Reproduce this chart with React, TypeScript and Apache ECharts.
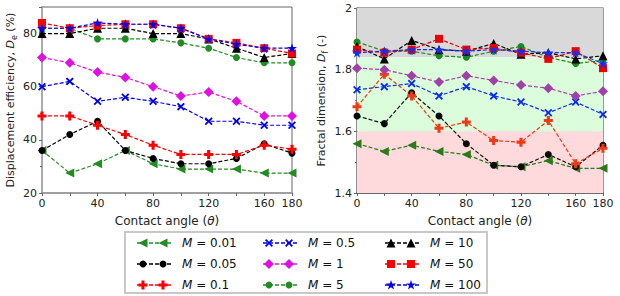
import React, { useEffect, useRef } from 'react';
import * as echarts from 'echarts';

const angles = [0, 20, 40, 60, 80, 100, 120, 140, 160, 180];
const xTickLabels = [0, 40, 80, 120, 160, 180];
const mValues = ['0.01', '0.05', '0.1', '0.5', '1', '5', '10', '50', '100'];

// Displacement efficiency (%)
const effM001 = [36, 27.5, 31, 36, 31, 29, 29, 29, 27.5, 27.5];
const effM005 = [36, 42, 47, 36, 33, 31, 31, 33, 38.5, 35];
const effM01 = [49, 49, 45.5, 42, 38, 34.5, 34.5, 34.5, 38, 36.5];
const effM05 = [60, 62, 54.5, 56, 54.5, 52.5, 47, 47, 45.5, 45.5];
const effM1 = [71, 69, 65.5, 63.5, 60, 56.5, 58, 54.5, 49, 49];
const effM5 = [82, 82, 78, 78, 78, 76.5, 74.5, 71, 69, 69];
const effM10 = [80, 80, 82, 82, 80, 80, 78, 74.5, 71, 72.5];
const effM50 = [84, 82, 83, 83.5, 83.5, 82, 78, 76.5, 74.5, 72.5];
const effM100 = [82, 82, 84, 83.5, 83.5, 82, 78, 76, 74.5, 74.5];

// Fractal dimension
const fracM001 = [1.56, 1.535, 1.555, 1.535, 1.525, 1.49, 1.485, 1.505, 1.48, 1.48];
const fracM005 = [1.65, 1.625, 1.725, 1.65, 1.56, 1.49, 1.485, 1.525, 1.485, 1.555];
const fracM01 = [1.68, 1.785, 1.715, 1.61, 1.63, 1.57, 1.565, 1.635, 1.495, 1.545];
const fracM05 = [1.735, 1.745, 1.755, 1.715, 1.745, 1.715, 1.695, 1.66, 1.695, 1.655];
const fracM1 = [1.805, 1.8, 1.78, 1.76, 1.78, 1.765, 1.75, 1.74, 1.715, 1.73];
const fracM5 = [1.89, 1.86, 1.86, 1.845, 1.84, 1.86, 1.875, 1.84, 1.82, 1.83];
const fracM10 = [1.875, 1.835, 1.895, 1.865, 1.86, 1.885, 1.85, 1.855, 1.835, 1.845];
const fracM50 = [1.865, 1.855, 1.865, 1.9, 1.865, 1.87, 1.855, 1.835, 1.86, 1.805];
const fracM100 = [1.855, 1.86, 1.865, 1.865, 1.86, 1.865, 1.86, 1.855, 1.855, 1.82];

// Background bands of the fractal-dimension plot
const bandEdges = [1.4, 1.6, 1.84, 2.0];

const FONT = 'DejaVu Sans';

const SHAPES: Record<string, number[][]> = {
  plus: [[3.3, 0], [6.7, 0], [6.7, 3.3], [10, 3.3], [10, 6.7], [6.7, 6.7], [6.7, 10], [3.3, 10], [3.3, 6.7], [0, 6.7], [0, 3.3], [3.3, 3.3]],
  cross: [[1.6, 0], [5, 3.4], [8.4, 0], [10, 1.6], [6.6, 5], [10, 8.4], [8.4, 10], [5, 6.6], [1.6, 10], [0, 8.4], [3.4, 5], [0, 1.6]],
  star: [[5, 0], [6.18, 3.62], [10, 3.62], [6.91, 5.86], [8.09, 9.5], [5, 7.26], [1.91, 9.5], [3.09, 5.86], [0, 3.62], [3.82, 3.62]],
  triUp: [[5, 0], [10, 10], [0, 10]],
  triLeft: [[0, 5], [10, 0], [10, 10]],
  diamond: [[5, 0], [10, 5], [5, 10], [0, 5]],
  square: [[0, 0], [10, 0], [10, 10], [0, 10]],
};

const pathSym = (k: string) => 'path://M' + SHAPES[k].map((p) => p.join(',')).join('L') + 'Z';

type Sty = { shape: string; size: number; color: string; color2: string };
const styles: Sty[] = [
  { shape: 'triLeft', size: 9, color: '#228B22', color2: '#2a7a1a' },
  { shape: 'circle', size: 7, color: '#000000', color2: '#0a0a0a' },
  { shape: 'plus', size: 9, color: '#ff0000', color2: '#ee3a16' },
  { shape: 'cross', size: 8, color: '#0000ee', color2: '#0a2aee' },
  { shape: 'diamond', size: 10, color: '#e010e0', color2: '#a040a8' },
  { shape: 'circle', size: 7, color: '#228B22', color2: '#1a8a1a' },
  { shape: 'triUp', size: 9, color: '#000000', color2: '#000000' },
  { shape: 'square', size: 8, color: '#ff0000', color2: '#ee0000' },
  { shape: 'star', size: 10, color: '#0000ee', color2: '#1030ee' },
];

const effData = [effM001, effM005, effM01, effM05, effM1, effM5, effM10, effM50, effM100];
const fracData = [fracM001, fracM005, fracM01, fracM05, fracM1, fracM5, fracM10, fracM50, fracM100];

function mkSeries(idx: number, values: number[], axis: number) {
  const s = styles[idx];
  const color = axis === 0 ? s.color : s.color2;
  return {
    name: 'M = ' + mValues[idx],
    type: 'line',
    xAxisIndex: axis,
    yAxisIndex: axis,
    data: angles.map((a, i) => [a, values[i]]),
    symbol: s.shape === 'circle' ? 'circle' : pathSym(s.shape),
    symbolSize: s.size,
    lineStyle: { color, width: 1.2, type: [4, 2] },
    itemStyle: { color },
    z: 3,
    clip: false,
  };
}

function legendMarker(shape: string, cx: number, cy: number, size: number, color: string) {
  if (shape === 'circle') {
    return { type: 'circle', shape: { cx, cy, r: size / 2 }, style: { fill: color } };
  }
  const s = size / 10;
  return {
    type: 'polygon',
    shape: { points: SHAPES[shape].map(([px, py]) => [cx + (px - 5) * s, cy + (py - 5) * s]) },
    style: { fill: color },
  };
}

const axisText = { color: '#222', fontSize: 11, fontFamily: FONT };
const mkRich = (fs: number) => ({
  i: { fontStyle: 'italic', fontSize: fs, fontFamily: FONT, color: '#222', lineHeight: 15 },
  sub: { fontSize: 8, fontFamily: FONT, color: '#222', verticalAlign: 'bottom', lineHeight: 9 },
});

function xAxisCfg(grid: number, lineColor: string) {
  return {
    type: 'value',
    gridIndex: grid,
    min: 0,
    max: 180,
    interval: 20,
    axisLabel: {
      ...axisText,
      margin: 5,
      formatter: (v: number) => (xTickLabels.includes(v) ? String(v) : ''),
    },
    axisTick: { show: true, length: 3, lineStyle: { color: '#666' } },
    axisLine: { show: true, lineStyle: { color: lineColor, width: 1.5 } },
    splitLine: { show: false },
    name: 'Contact angle ({i|θ})',
    nameLocation: 'middle',
    nameGap: 18,
    nameTextStyle: { fontSize: 12, fontFamily: FONT, color: '#222', lineHeight: 15, rich: mkRich(12) },
  };
}

export default function App() {
  const ref = useRef<HTMLDivElement>(null);
  useEffect(() => {
    if (!ref.current) return;
    const chart = echarts.init(ref.current, undefined, { renderer: 'svg' });

    const series: any[] = [];
    series.push({
      name: 'bands',
      type: 'line',
      xAxisIndex: 1,
      yAxisIndex: 1,
      data: [],
      z: 1,
      markArea: {
        silent: true,
        data: [
          [{ yAxis: bandEdges[2], itemStyle: { color: '#d9d9d9' } }, { yAxis: bandEdges[3] }],
          [{ yAxis: bandEdges[1], itemStyle: { color: '#dbfddb' } }, { yAxis: bandEdges[2] }],
          [{ yAxis: bandEdges[0], itemStyle: { color: '#ffdadc' } }, { yAxis: bandEdges[1] }],
        ],
      },
    });
    effData.forEach((d, i) => series.push(mkSeries(i, d, 0)));
    fracData.forEach((d, i) => series.push(mkSeries(i, d, 1)));

    // legend drawn as graphic
    const cols = [
      { iconX: 137, textX: 182 },
      { iconX: 263, textX: 308 },
      { iconX: 385, textX: 430 },
    ];
    const rows = [243, 264, 285];
    const legendEls: any[] = [
      {
        type: 'rect',
        shape: { x: 125, y: 232, width: 362, height: 61 },
        style: { fill: '#fff', stroke: '#c8c8c8', lineWidth: 2 },
        z: 10,
      },
    ];
    mValues.forEach((m, i) => {
      const c = cols[Math.floor(i / 3)];
      const y = rows[i % 3];
      const st = styles[i];
      legendEls.push({
        type: 'line',
        shape: { x1: c.iconX, y1: y, x2: c.iconX + 35, y2: y },
        style: { stroke: st.color, lineWidth: 1.5, lineDash: [4, 2] },
        z: 11,
      });
      legendEls.push({ ...legendMarker(st.shape, c.iconX + 6, y, st.size, st.color), z: 12 });
      legendEls.push({ ...legendMarker(st.shape, c.iconX + 26, y, st.size, st.color), z: 12 });
      legendEls.push({
        type: 'text',
        x: c.textX,
        y,
        z: 12,
        style: {
          text: '{i|M} = ' + m,
          fill: '#111',
          fontSize: 12,
          fontFamily: FONT,
          verticalAlign: 'middle',
          rich: { i: { fontStyle: 'italic', fontSize: 12, fontFamily: FONT, fill: '#111' } },
        },
      });
    });

    chart.setOption({
      animation: false,
      backgroundColor: '#ffffff',
      textStyle: { fontFamily: FONT },
      grid: [
        { left: 42, top: 7, width: 250, height: 186, show: true, borderColor: '#666', borderWidth: 1 },
        { left: 357, top: 8, width: 246, height: 185, show: true, borderColor: '#555', borderWidth: 1.2 },
      ],
      xAxis: [xAxisCfg(0, '#999'), xAxisCfg(1, '#555')],
      yAxis: [
        {
          type: 'value',
          gridIndex: 0,
          min: 20,
          max: 90,
          interval: 20,
          axisLabel: { ...axisText, margin: 5, showMaxLabel: false, formatter: (v: number) => (v === 90 ? '' : String(v)) },
          axisTick: { show: true, length: 3, lineStyle: { color: '#666' } },
          minorTick: { show: true, splitNumber: 2, length: 2, lineStyle: { color: '#666' } },
          axisLine: { show: true, lineStyle: { color: '#aaa', width: 2 } },
          splitLine: { show: false },
          name: 'Displacement efficiency, {i|D}{sub|e} (%)',
          nameLocation: 'middle',
          nameGap: 24,
          nameTextStyle: { fontSize: 11, fontFamily: FONT, color: '#222', lineHeight: 15, rich: mkRich(11) },
        },
        {
          type: 'value',
          gridIndex: 1,
          min: 1.4,
          max: 2,
          interval: 0.2,
          axisLabel: { ...axisText, margin: 5 },
          axisTick: { show: true, length: 3, lineStyle: { color: '#666' } },
          minorTick: { show: true, splitNumber: 2, length: 2, lineStyle: { color: '#666' } },
          axisLine: { show: true, lineStyle: { color: '#555', width: 1.2 } },
          splitLine: { show: false },
          name: 'Fractal dimension, {i|D}{sub|f} (-)',
          nameLocation: 'middle',
          nameGap: 28,
          nameTextStyle: { fontSize: 11, fontFamily: FONT, color: '#222', lineHeight: 15, rich: mkRich(11) },
        },
      ],
      series,
      graphic: legendEls,
    });
    return () => chart.dispose();
  }, []);
  return (
    <div
      ref={ref}
      style={{ position: 'fixed', left: 0, top: 0, width: 620, height: 296, background: '#fff' }}
    />
  );
}
